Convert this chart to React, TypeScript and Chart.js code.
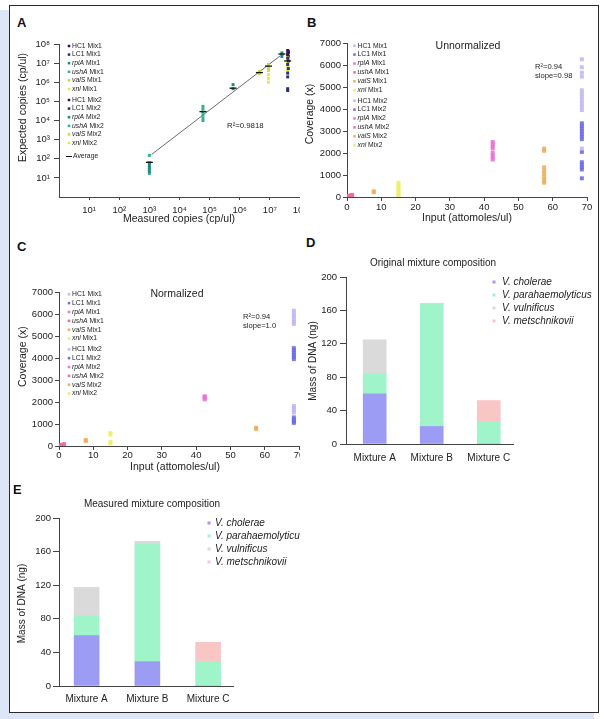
import React, { useEffect, useRef } from 'react';
import { Chart, registerables } from 'chart.js';
Chart.register(...registerables);

type Pt = [number, number];
const FONT = "'Liberation Sans', Arial, Helvetica, sans-serif";
const TXT = '#222';
const AXIS = '#444';

// ---------- shared legend data ----------
const genes = ['HC1', 'LC1', 'rplA', 'ushA', 'valS', 'xnl'];
const geneItalic = [false, false, true, true, true, true];
const mixes = ['Mix1', 'Mix2'];
const colorsA = ['#3d0f5a', '#24307e', '#1f8a84', '#2fb484', '#c2dc3c', '#ebe93a'];
const colorsBC = ['#c4b6f2', '#6d6de6', '#ea72dc', '#f06aa0', '#f3ad5c', '#eeee70'];

// ---------- panel A ----------
const aDecades = [1, 2, 3, 4, 5, 6, 7, 8];
const aHC1Mix1: Pt[] = [[3.9e7, 4.6e7], [4.1e7, 3.6e7], [3.9e7, 2.8e7]];
const aHC1Mix2: Pt[] = [[4.1e7, 4.1e7], [3.9e7, 3.1e7], [4.1e7, 2.3e7]];
const aLC1Mix1: Pt[] = [[3.9e7, 1.8e7], [4.1e7, 1.3e7], [3.9e7, 8.5e6], [4.1e7, 5.2e6]];
const aLC1Mix2: Pt[] = [[3.9e7, 3e6], [3.9e7, 1.9e6], [3.9e7, 4.6e5], [3.9e7, 3.7e5]];
const arplAMix1: Pt[] = [[1e3, 62], [1e3, 46], [1e3, 36], [2.5e7, 3.4e7], [2.5e7, 2.8e7], [2.5e7, 2.2e7]];
const arplAMix2: Pt[] = [[1e3, 28], [1e3, 21], [6e5, 7.5e5], [6e5, 4.6e5]];
const aushAMix1: Pt[] = [[1e3, 150], [6e4, 5.5e4], [6e4, 4e4], [6e4, 2.8e4]];
const aushAMix2: Pt[] = [[6e4, 2e4], [6e4, 1.4e4], [6e4, 1e4], [1e3, 17]];
const avalSMix1: Pt[] = [[4.5e6, 3.6e6], [4.5e6, 2.9e6], [9e6, 8.5e6]];
const avalSMix2: Pt[] = [[9e6, 6e6], [9e6, 4.2e6], [3.9e7, 2.5e7]];
const axnlMix1: Pt[] = [[9e6, 2.5e6], [9e6, 1.6e6], [9e6, 1e6], [3.9e7, 1.9e7]];
const axnlMix2: Pt[] = [[3.9e7, 1.2e7], [3.9e7, 6.5e6], [3.9e7, 4.2e6], [3.9e7, 3.5e6]];
const aAverage: Pt[] = [[1e3, 65], [6e4, 2.9e4], [6e5, 4.9e5], [4.5e6, 3.2e6], [9e6, 7e6], [2.5e7, 3e7], [3.9e7, 1.3e7]];
const aFit: Pt[] = [[1.2e3, 170], [2.2e7, 2.4e7]];
const aSeries = [
  [aHC1Mix1, aLC1Mix1, arplAMix1, aushAMix1, avalSMix1, axnlMix1],
  [aHC1Mix2, aLC1Mix2, arplAMix2, aushAMix2, avalSMix2, axnlMix2],
];

// ---------- panel B (unnormalized) ----------
const bHC1Mix1: Pt[] = [[68.5, 6260], [68.5, 5900], [68.5, 5650], [68.5, 5470], [68.5, 4850], [68.5, 4700]];
const bHC1Mix2: Pt[] = [[68.5, 4550], [68.5, 4400], [68.5, 4250], [68.5, 4100], [68.5, 3950], [68.5, 2200]];
const bLC1Mix1: Pt[] = [[68.5, 3350], [68.5, 3230], [68.5, 3110], [68.5, 2990], [68.5, 2870], [68.5, 2750], [68.5, 2630]];
const bLC1Mix2: Pt[] = [[68.5, 2050], [68.5, 1580], [68.5, 1470], [68.5, 1360], [68.5, 1250], [68.5, 850]];
const brplAMix1: Pt[] = [[42.5, 2500], [42.5, 2400], [42.5, 2300], [42.5, 2200]];
const brplAMix2: Pt[] = [[42.5, 2000], [42.5, 1900], [42.5, 1800], [42.5, 1700]];
const bushAMix1: Pt[] = [[0.2, 20], [0.6, 45], [1.1, 70], [1.5, 95]];
const bushAMix2: Pt[] = [[0.3, 0], [0.8, 30], [1.3, 60]];
const bvalSMix1: Pt[] = [[7.8, 260], [7.8, 220], [57.5, 2200], [57.5, 2100]];
const bvalSMix2: Pt[] = [[57.5, 1350], [57.5, 1200], [57.5, 1050], [57.5, 900], [57.5, 750], [57.5, 650]];
const bxnlMix1: Pt[] = [[15, 650], [15, 560], [15, 470], [15, 380]];
const bxnlMix2: Pt[] = [[15, 290], [15, 200], [15, 110], [15, 30]];
const bSeries = [
  [bHC1Mix1, bLC1Mix1, brplAMix1, bushAMix1, bvalSMix1, bxnlMix1],
  [bHC1Mix2, bLC1Mix2, brplAMix2, bushAMix2, bvalSMix2, bxnlMix2],
];

// ---------- panel C (normalized) ----------
const cHC1Mix1: Pt[] = [[68.5, 6150], [68.5, 6020], [68.5, 5900], [68.5, 5780], [68.5, 5650], [68.5, 5550]];
const cHC1Mix2: Pt[] = [[68.5, 1820], [68.5, 1720], [68.5, 1620], [68.5, 1520]];
const cLC1Mix1: Pt[] = [[68.5, 4450], [68.5, 4350], [68.5, 4250], [68.5, 4150], [68.5, 4050], [68.5, 3950]];
const cLC1Mix2: Pt[] = [[68.5, 1300], [68.5, 1200], [68.5, 1120], [68.5, 1050]];
const crplAMix1: Pt[] = [[42.5, 2260], [42.5, 2180]];
const crplAMix2: Pt[] = [[42.5, 2220], [42.5, 2120]];
const cushAMix1: Pt[] = [[0.2, 10], [0.7, 35], [1.2, 65]];
const cushAMix2: Pt[] = [[0.4, 0], [1.0, 50], [1.5, 80]];
const cvalSMix1: Pt[] = [[7.8, 270], [7.8, 230]];
const cvalSMix2: Pt[] = [[57.5, 830], [57.5, 780]];
const cxnlMix1: Pt[] = [[15, 590], [15, 520]];
const cxnlMix2: Pt[] = [[15, 180], [15, 120]];
const cSeries = [
  [cHC1Mix1, cLC1Mix1, crplAMix1, cushAMix1, cvalSMix1, cxnlMix1],
  [cHC1Mix2, cLC1Mix2, crplAMix2, cushAMix2, cvalSMix2, cxnlMix2],
];

// ---------- panels D / E ----------
const mixtureLabels = ['Mixture A', 'Mixture B', 'Mixture C'];
const species = ['V. cholerae', 'V. parahaemolyticus', 'V. vulnificus', 'V. metschnikovii'];
const speciesColors = ['#9c9cf4', '#9ff5c9', '#dadada', '#f9c6c6'];
const dCholerae = [60, 21, 0];
const dParahaemolyticus = [24, 146.5, 27];
const dVulnificus = [40.5, 1, 0];
const dMetschnikovii = [0, 0, 25];
const eCholerae = [60, 29, 0];
const eParahaemolyticus = [24, 140, 29];
const eVulnificus = [33, 3, 0];
const eMetschnikovii = [0, 0, 23];

// ---------- helpers ----------
const SUP = '⁰¹²³⁴⁵⁶⁷⁸⁹';
const sup = (v: number) =>
  '10' + String(Math.round(Math.log10(v))).split('').map((d) => SUP[+d]).join('');
const toXY = (a: Pt[]) => a.map(([x, y]) => ({ x, y }));

type Note = { text: string; x: number; y: number; size: number; align?: CanvasTextAlign; italic?: boolean; rotate?: number };
function makeNotes(items: Note[]) {
  return {
    id: 'notes',
    afterDraw(chart: any) {
      const ctx = chart.ctx as CanvasRenderingContext2D;
      for (const n of items) {
        ctx.save();
        ctx.font = `${n.italic ? 'italic ' : ''}${n.size}px ${FONT}`;
        ctx.fillStyle = TXT;
        ctx.textAlign = n.align || 'left';
        ctx.textBaseline = 'middle';
        ctx.translate(n.x, n.y);
        if (n.rotate) ctx.rotate(n.rotate);
        ctx.fillText(n.text, 0, 0);
        ctx.restore();
      }
    },
  };
}

type LegendRow = { color: string; parts: [string, boolean][]; y: number; line?: boolean };
function makeLegend(rows: LegendRow[], markerX: number, textX: number, size: number, marker: number) {
  return {
    id: 'customLegend',
    afterDraw(chart: any) {
      const ctx = chart.ctx as CanvasRenderingContext2D;
      ctx.save();
      ctx.textBaseline = 'middle';
      ctx.textAlign = 'left';
      for (const r of rows) {
        let tx = textX;
        if (r.line) {
          ctx.strokeStyle = r.color;
          ctx.lineWidth = 1;
          ctx.beginPath();
          ctx.moveTo(markerX - 3, r.y);
          ctx.lineTo(markerX + 3, r.y);
          ctx.stroke();
          tx = textX + 1;
        } else {
          ctx.fillStyle = r.color;
          ctx.fillRect(markerX - marker / 2, r.y - marker / 2, marker, marker);
        }
        ctx.fillStyle = TXT;
        for (const [t, it] of r.parts) {
          ctx.font = `${it ? 'italic ' : ''}${size}px ${FONT}`;
          ctx.fillText(t, tx, r.y);
          tx += ctx.measureText(t).width;
        }
      }
      ctx.restore();
    },
  };
}

function geneRows(colors: string[], starts: number[], step: number): LegendRow[] {
  const rows: LegendRow[] = [];
  mixes.forEach((m, mi) =>
    genes.forEach((g, gi) =>
      rows.push({ color: colors[gi], parts: [[g, geneItalic[gi]], [' ' + m, false]], y: starts[mi] + gi * step })
    )
  );
  return rows;
}

const tickFont = { family: FONT, size: 9.5 };
const plain = (v: any) => String(v);
function yAxis(width: number, tickLength: number, pad: number, extra: any) {
  return {
    afterFit: (s: any) => { s.width = width; },
    border: { display: true, color: AXIS, width: 1 },
    grid: { display: true, drawOnChartArea: false, drawTicks: true, tickLength, color: AXIS },
    ...extra,
  };
}
function xAxis(height: number, tickLength: number, extra: any) {
  return {
    afterFit: (s: any) => { s.height = height; },
    border: { display: true, color: AXIS, width: 1 },
    grid: { display: tickLength > 0, drawOnChartArea: false, drawTicks: tickLength > 0, tickLength, color: AXIS },
    ...extra,
  };
}
const baseOpts = {
  animation: false as const,
  responsive: true,
  maintainAspectRatio: false,
  events: [] as any[],
};

// ---------- configs ----------
function configA(): any {
  const datasets: any[] = [
    { type: 'line', data: toXY(aFit), borderColor: '#444', borderWidth: 0.8, pointRadius: 0, fill: false, order: 3 },
  ];
  mixes.forEach((m, mi) =>
    genes.forEach((g, gi) =>
      datasets.push({
        label: `${g} ${m}`,
        data: toXY(aSeries[mi][gi]),
        pointStyle: 'rect',
        pointRadius: 2.1,
        pointBorderWidth: 0,
        backgroundColor: colorsA[gi],
        order: 2,
      })
    )
  );
  datasets.push({
    label: 'Average',
    data: toXY(aAverage),
    pointStyle: 'line',
    pointRadius: 3.5,
    borderColor: '#111',
    pointBorderWidth: 1.3,
    order: 1,
  });
  const rows = geneRows(colorsA, [16, 70], 8.6);
  rows.push({ color: '#111', parts: [['Average', false]], y: 126.5, line: true });
  const decTicks = (s: any) => { s.ticks = aDecades.map((n) => ({ value: Math.pow(10, n) })); };
  return {
    type: 'scatter',
    data: { datasets },
    options: {
      ...baseOpts,
      layout: { padding: { left: 0, top: 14, right: 20, bottom: 0 } },
      plugins: { legend: { display: false }, tooltip: { enabled: false } },
      scales: {
        x: xAxis(28, 3, {
          type: 'logarithmic', min: 1, max: 1e8, afterBuildTicks: decTicks,
          ticks: { color: TXT, font: tickFont, padding: 5, autoSkip: false, maxRotation: 0, callback: (v: any) => sup(Number(v)) },
        }),
        y: yAxis(59, 5, 4, {
          type: 'logarithmic', min: 1, max: 1e8, afterBuildTicks: decTicks,
          ticks: { color: TXT, font: tickFont, padding: 4, autoSkip: false, callback: (v: any) => sup(Number(v)) },
        }),
      },
    },
    plugins: [
      makeLegend(rows, 69, 72, 6.8, 2.5),
      makeNotes([
        { text: 'R²=0.9818', x: 227, y: 96, size: 7.8 },
        { text: 'Expected copies (cp/ul)', x: 23, y: 77.5, size: 10.5, align: 'center', rotate: -Math.PI / 2 },
        { text: 'Measured copies (cp/ul)', x: 179, y: 189, size: 10.5, align: 'center' },
      ]),
    ],
  };
}

function configCoverage(series: Pt[][][], g: any): any {
  const datasets: any[] = [];
  mixes.forEach((m, mi) =>
    genes.forEach((gn, gi) =>
      datasets.push({
        label: `${gn} ${m}`,
        data: toXY(series[mi][gi]),
        pointStyle: 'rect',
        pointRadius: 2.8,
        pointBorderWidth: 0,
        backgroundColor: colorsBC[gi] + 'e6',
      })
    )
  );
  return {
    type: 'scatter',
    data: { datasets },
    options: {
      ...baseOpts,
      layout: { padding: { left: 0, top: g.top, right: g.right, bottom: 0 } },
      plugins: { legend: { display: false }, tooltip: { enabled: false } },
      scales: {
        x: xAxis(g.xh, 4, { type: 'linear', min: 0, max: 70, ticks: { color: TXT, font: tickFont, padding: g.xpad, autoSkip: false, maxRotation: 0, stepSize: 10, callback: plain } }),
        y: yAxis(g.yw, 4, 2, { type: 'linear', min: 0, max: 7000, ticks: { color: TXT, font: tickFont, padding: 2, autoSkip: false, stepSize: 1000, callback: plain } }),
      },
    },
    plugins: [makeLegend(geneRows(colorsBC, g.legStarts, g.legStep), g.legX - 3, g.legX, 6.8, 2.5), makeNotes(g.notes)],
  };
}

function configBars(values: number[][], g: any): any {
  const datasets = species.map((s, i) => ({
    label: s,
    data: values[i].map((v, j) => ({ x: j + 1, y: v })),
    backgroundColor: speciesColors[i],
    borderWidth: 0,
    barThickness: g.bar,
  }));
  const rows: LegendRow[] = species.map((s, i) => ({ color: speciesColors[i], parts: [[s, true]], y: g.legY + i * g.legStep }));
  return {
    type: 'bar',
    data: { datasets },
    options: {
      ...baseOpts,
      layout: { padding: { left: 0, top: g.top, right: g.right, bottom: 0 } },
      plugins: { legend: { display: false }, tooltip: { enabled: false } },
      scales: {
        x: xAxis(g.xh, 0, {
          type: 'linear', min: g.xmin, max: g.xmax, stacked: true, offset: false,
          afterBuildTicks: (s: any) => { s.ticks = mixtureLabels.map((_, i) => ({ value: i + 1 })); },
          ticks: { color: TXT, font: { family: FONT, size: 10 }, padding: g.xpad, autoSkip: false, maxRotation: 0, callback: (v: any) => mixtureLabels[Math.round(Number(v)) - 1] },
        }),
        y: yAxis(g.yw, 6, g.ypad, { type: 'linear', min: 0, max: 200, stacked: true, ticks: { color: TXT, font: tickFont, padding: g.ypad, autoSkip: false, stepSize: 40, callback: plain } }),
      },
    },
    plugins: [makeLegend(rows, g.legMX, g.legTX, 10, 3), makeNotes(g.notes)],
  };
}

// ---------- components ----------
function Panel({ left, top, width, height, clip, make }: { left: number; top: number; width: number; height: number; clip?: number; make: () => any }) {
  const ref = useRef<HTMLCanvasElement>(null);
  useEffect(() => {
    const chart = new Chart(ref.current as HTMLCanvasElement, make());
    return () => chart.destroy();
  }, []);
  return (
    <div style={{ position: 'absolute', left, top, width: clip ?? width, height, overflow: 'hidden' }}>
      <div style={{ position: 'relative', width, height }}>
        <canvas ref={ref} />
      </div>
    </div>
  );
}

function Letter({ text, left, top }: { text: string; left: number; top: number }) {
  return (
    <div style={{ position: 'absolute', left, top, fontFamily: FONT, fontWeight: 'bold', fontSize: 13, lineHeight: '13px', color: '#111' }}>
      {text}
    </div>
  );
}

export default function App() {
  return (
    <div style={{ position: 'absolute', left: 0, top: 0, width: 605, height: 719, background: '#fff', overflow: 'hidden' }}>
      <div style={{ position: 'absolute', left: 0, top: 10, width: 9, height: 709, background: '#dde5f9' }} />
      <div style={{ position: 'absolute', left: 0, top: 713, width: 594, height: 6, background: '#dde5f9' }} />
      <div style={{ position: 'absolute', left: 9, top: 5, width: 590, height: 708, border: '1.5px solid #2a2a2a', boxSizing: 'border-box', background: '#fff' }} />

      <Panel left={0} top={30} width={320} height={195} clip={300} make={configA} />
      <Panel
        left={300} top={30} width={299} height={194}
        make={() =>
          configCoverage(bSeries, {
            top: 13, right: 12, xh: 27, yw: 47, xpad: 1,
            legStarts: [15.7, 70.7], legStep: 8.9, legX: 57.5,
            notes: [
              { text: 'Unnormalized', x: 168, y: 16, size: 10.5, align: 'center' },
              { text: 'R²=0.94', x: 235, y: 37, size: 7.6 },
              { text: 'slope=0.98', x: 235, y: 46, size: 7.6 },
              { text: 'Coverage (x)', x: 10, y: 84, size: 10.5, align: 'center', rotate: -Math.PI / 2 },
              { text: 'Input (attomoles/ul)', x: 167, y: 188, size: 10.5, align: 'center' },
            ],
          })
        }
      />
      <Panel
        left={0} top={280} width={320} height={193} clip={300}
        make={() =>
          configCoverage(cSeries, {
            top: 12, right: 21, xh: 27, yw: 59, xpad: 0,
            legStarts: [14.3, 69.3], legStep: 8.85, legX: 72,
            notes: [
              { text: 'Normalized', x: 177, y: 14, size: 10.5, align: 'center' },
              { text: 'R²=0.94', x: 243, y: 37, size: 7.6 },
              { text: 'slope=1.0', x: 243, y: 46, size: 7.6 },
              { text: 'Coverage (x)', x: 23, y: 76.7, size: 10.5, align: 'center', rotate: -Math.PI / 2 },
              { text: 'Input (attomoles/ul)', x: 175, y: 186.7, size: 10.5, align: 'center' },
            ],
          })
        }
      />
      <Panel
        left={300} top={250} width={299} height={224}
        make={() =>
          configBars([dCholerae, dParahaemolyticus, dVulnificus, dMetschnikovii], {
            top: 27, right: 86, xh: 30, yw: 46, xpad: 8, ypad: 3, bar: 23, xmin: 0.497, xmax: 3.425,
            legY: 32, legStep: 13, legMX: 194, legTX: 202,
            notes: [
              { text: 'Original mixture composition', x: 133, y: 13, size: 10, align: 'center' },
              { text: 'Mass of DNA (ng)', x: 13, y: 111, size: 10, align: 'center', rotate: -Math.PI / 2 },
            ],
          })
        }
      />
      <Panel
        left={0} top={495} width={320} height={216} clip={300}
        make={() =>
          configBars([eCholerae, eParahaemolyticus, eVulnificus, eMetschnikovii], {
            top: 23, right: 87, xh: 25, yw: 59, xpad: 7, ypad: 2, bar: 25, xmin: 0.545, xmax: 3.41,
            legY: 28, legStep: 13, legMX: 209, legTX: 215,
            notes: [
              { text: 'Measured mixture composition', x: 152, y: 9, size: 10, align: 'center' },
              { text: 'Mass of DNA (ng)', x: 22, y: 108.5, size: 10, align: 'center', rotate: -Math.PI / 2 },
            ],
          })
        }
      />

      <Letter text="A" left={17} top={16} />
      <Letter text="B" left={307} top={16} />
      <Letter text="C" left={17} top={240} />
      <Letter text="D" left={306} top={236} />
      <Letter text="E" left={13} top={483} />
    </div>
  );
}
